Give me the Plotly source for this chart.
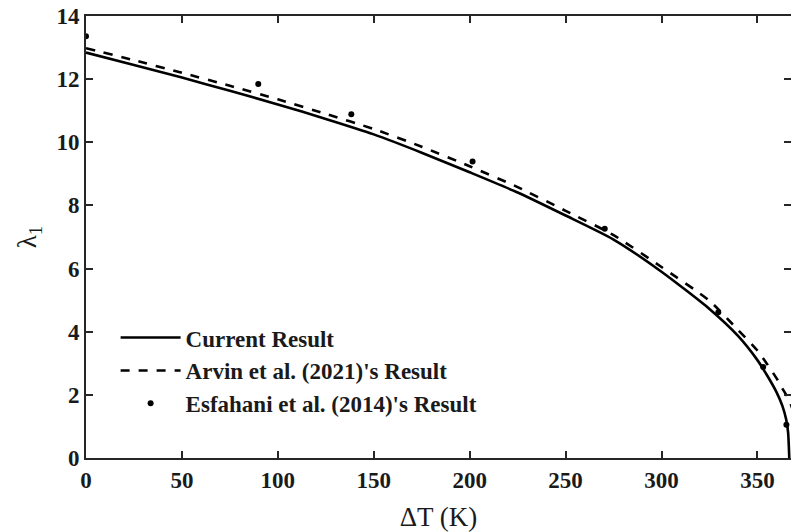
import plotly.graph_objects as go

# Current Result (solid)
cur_x = [0, 25, 50, 75, 100, 125, 150, 175, 200, 225, 250, 275, 300, 325, 340, 350, 355, 360, 363, 365, 366, 366.6]
cur_y = [12.84, 12.45, 12.05, 11.63, 11.2, 10.74, 10.25, 9.67, 9.05, 8.41, 7.68, 6.92, 5.9, 4.72, 3.86, 3.1, 2.62, 2.08, 1.65, 1.22, 0.8, 0.0]

# Arvin et al. (2021) (dashed)
arv_x = [0, 25, 50, 75, 100, 125, 150, 175, 200, 225, 250, 275, 300, 325, 340, 350, 355, 360, 363, 366, 368, 370]
arv_y = [12.98, 12.6, 12.2, 11.79, 11.36, 10.9, 10.42, 9.86, 9.24, 8.58, 7.83, 7.06, 6.05, 4.98, 4.05, 3.4, 2.98, 2.52, 2.2, 1.9, 1.6, 1.2]

# Esfahani et al. (2014) (dots)
esf_x = [0, 89.8, 138.3, 201.5, 270.4, 329.6, 353, 365.1]
esf_y = [13.36, 11.85, 10.89, 9.39, 7.26, 4.62, 2.88, 1.05]

x_ticks = [0, 50, 100, 150, 200, 250, 300, 350]
y_ticks = [0, 2, 4, 6, 8, 10, 12, 14]

font_family = "Liberation Serif, Times New Roman, serif"
axis_col = "#262626"

fig = go.Figure()
fig.add_trace(go.Scatter(x=cur_x, y=cur_y, mode="lines", name="<b>Current Result</b>",
                         line=dict(color="black", width=2.6, shape="spline", smoothing=0.6)))
fig.add_trace(go.Scatter(x=arv_x, y=arv_y, mode="lines", name="<b>Arvin et al. (2021)'s Result</b>",
                         line=dict(color="black", width=2.6, dash="9px,9px", shape="spline", smoothing=0.6)))
fig.add_trace(go.Scatter(x=esf_x, y=esf_y, mode="markers", name="<b>Esfahani et al. (2014)'s Result</b>",
                         marker=dict(color="black", size=6)))

fig.update_layout(
    width=791, height=532,
    margin=dict(l=86, r=0, t=16, b=74),
    plot_bgcolor="white", paper_bgcolor="white",
    font=dict(family=font_family, color="#1a1a1a", size=18),
    showlegend=True,
    legend=dict(x=0.042, y=0.321, xanchor="left", yanchor="top",
                bgcolor="rgba(0,0,0,0)", borderwidth=0,
                font=dict(size=23, family=font_family, color="#1a1a1a"),
                itemwidth=60, tracegroupgap=0),
)
fig.update_xaxes(range=[0, 367.5], tickvals=x_ticks, ticktext=[f"<b>{v}</b>" for v in x_ticks],
                 ticks="inside", ticklen=7, tickwidth=2, tickcolor=axis_col,
                 showline=True, linecolor=axis_col, linewidth=2, mirror="ticks",
                 showgrid=False, zeroline=False, automargin=False, ticklabeloverflow="allow",
                 tickfont=dict(size=23, family=font_family),
                 title=dict(text="ΔT (K)", font=dict(size=27, family=font_family), standoff=20))
fig.update_yaxes(range=[0, 14], tickvals=y_ticks, ticktext=[f"<b>{v}</b>" for v in y_ticks],
                 ticks="inside", ticklen=7, tickwidth=2, tickcolor=axis_col,
                 showline=True, linecolor=axis_col, linewidth=2, mirror="ticks",
                 showgrid=False, zeroline=False, automargin=False, ticklabeloverflow="allow",
                 tickfont=dict(size=23, family=font_family),
                 title=dict(text="λ<sub>1</sub>", font=dict(size=27, family=font_family), standoff=12))

fig.write_html("out.html",
               config={"displayModeBar": False},
               post_script="document.body.style.margin='0';document.body.style.overflow='hidden';")
